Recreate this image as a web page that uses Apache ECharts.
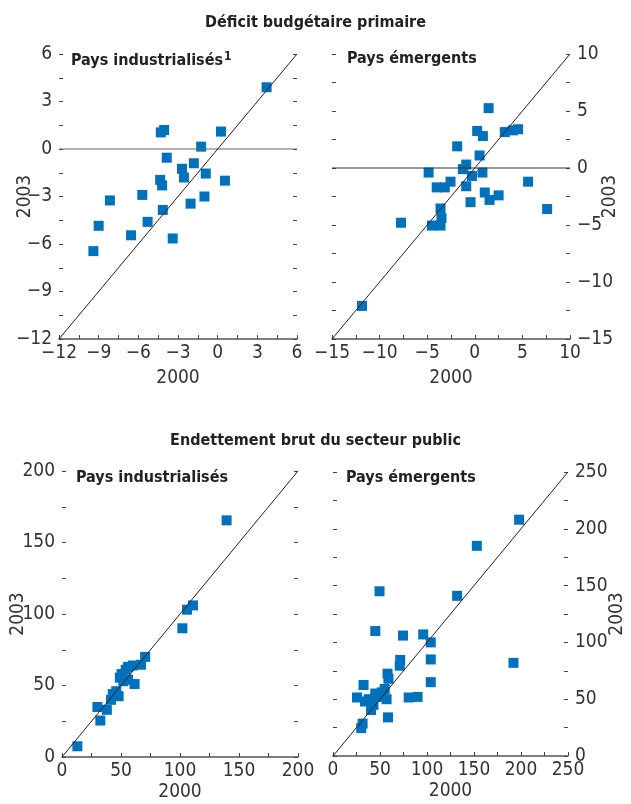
<!DOCTYPE html>
<html>
<head>
<meta charset="utf-8">
<script src="https://cdn.jsdelivr.net/npm/echarts@6/dist/echarts.min.js"></script>
<style>
html,body{margin:0;padding:0;background:#fff;}
#c{width:631px;height:804px;}
</style>
</head>
<body>
<div id="c"></div>
<script>
// ---- Data ----
// Primary deficit, industrial countries: [2000, 2003]
const deficitIndustrial = [
  [3.7,3.9],[-4.3,1.05],[-4.05,1.2],[0.25,1.1],[-1.25,0.15],[-3.85,-0.55],
  [-2.7,-1.25],[-1.8,-0.9],[-0.9,-1.55],[0.55,-2.0],[-2.55,-1.8],[-4.35,-1.95],
  [-4.2,-2.3],[-5.7,-2.9],[-8.15,-3.25],[-1.0,-3.0],[-2.05,-3.45],[-4.15,-3.85],
  [-5.3,-4.6],[-9.0,-4.85],[-6.55,-5.45],[-3.4,-5.65],[-9.4,-6.45]
];
// Primary deficit, emerging countries
const deficitEmerging = [
  [1.45,5.25],[0.25,3.25],[0.85,2.8],[3.15,3.15],[4.0,3.3],[4.55,3.4],
  [-1.85,1.9],[0.5,1.1],[-0.9,0.3],[-1.25,-0.1],[-0.3,-0.7],[-4.85,-0.4],
  [0.8,-0.4],[-2.55,-1.2],[-4.0,-1.7],[-3.15,-1.7],[-0.9,-1.6],[5.6,-1.2],
  [1.05,-2.15],[1.55,-2.8],[2.5,-2.4],[-0.45,-3.0],[-3.6,-3.55],[7.6,-3.6],
  [-3.5,-4.4],[-7.75,-4.8],[-4.5,-5.05],[-3.6,-5.05],[-11.85,-12.1]
];
// Gross public debt, industrial countries
const debtIndustrial = [
  [139.5,165.5],[111,106],[106,103],[102,90],[70.5,70],[67,64.5],[60,64],
  [56,63],[54,61],[50.5,58],[49,55.5],[56,54],[61.5,51],[52,53],[48,42.5],
  [43,44],[41.5,40],[38,33],[30,35],[32.5,25.5],[13,7.5],[46,46]
];
// Gross public debt, emerging countries
const debtEmerging = [
  [198,208],[153,185],[132,141],[49.5,145],[45,110],[74.5,106],[96,107],
  [104,100],[104,85],[104,65],[192,82],[71.5,84.5],[71,79.5],[58,72.5],
  [59,68],[32.5,62.5],[25.5,51.5],[80.5,51.5],[90,52],[57,50],[55,59],
  [45,55],[34,48],[43,45],[40.5,40.5],[58.5,34],[31.5,28.5],[30,24.5],
  [47,52],[52,56],[38,50]
];
// Axis ranges [min, max, tickStep, labelStep]
const rangeDefInd = [-12, 6, 1.5, 3];
const rangeDefEm = [-15, 10, 2.5, 5];
const rangeDebtInd = [0, 200, 25, 50];
const rangeDebtEm = [0, 250, 25, 50];
// Reference lines (45-degree line and zero line)
const diagDefInd = [[-12,-12],[6,6]];
const diagDefEm = [[-15,-15],[10,10]];
const diagDebtInd = [[0,0],[200,200]];
const diagDebtEm = [[0,0],[250,250]];
const zeroDefInd = [[-12,0],[6,0]];
const zeroDefEm = [[-15,0],[10,0]];
// Texts
const mainTitle1 = 'Déficit budgétaire primaire';
const mainTitle2 = 'Endettement brut du secteur public';
const panelInd = 'Pays industrialisés';
const panelEm = 'Pays émergents';
const xName = '2000';
const yName = '2003';

// ---- Chart ----
const FONT = '"Liberation Sans Narrow","DejaVu Sans Condensed","Liberation Sans",sans-serif';
const TXT = '#333';
const BLUE = '#0071bc';

function fmt(step){
  return function(v){
    const r = v/step;
    if (Math.abs(r - Math.round(r)) > 1e-6) return '';
    return v < 0 ? '\u2212' + (-v) : String(v);
  };
}

const grids = [
  {left:59, top:54, width:238, height:285},
  {left:332, top:54, width:238, height:285},
  {left:62, top:471, width:236, height:286},
  {left:333, top:472, width:235, height:284}
];
const ranges = [rangeDefInd, rangeDefEm, rangeDebtInd, rangeDebtEm];
const labelSide = ['left','right','left','right'];
const xGaps = [30,30,26,26];
const yGaps = [24,31,34,40];

const xAxes = [], yAxes = [];
ranges.forEach((r,i)=>{
  xAxes.push({
    type:'value', gridIndex:i, min:r[0], max:r[1], interval:r[2],
    position:'bottom',
    axisLine:{show:true, onZero:false, lineStyle:{color:'#555', width:1.5}},
    axisTick:{show:true, inside:true, length:4, lineStyle:{color:'#444', width:1}},
    axisLabel:{formatter:fmt(r[3]), color:TXT, fontFamily:FONT, fontSize:19, margin:5, showMinLabel:true, showMaxLabel:true},
    splitLine:{show:false},
    name:xName, nameLocation:'middle', nameGap:xGaps[i],
    nameTextStyle:{color:TXT, fontFamily:FONT, fontSize:19}
  });
  ['left','right'].forEach(side=>{
    const lab = side === labelSide[i];
    yAxes.push({
      type:'value', gridIndex:i, min:r[0], max:r[1], interval:r[2],
      position:side,
      axisLine:{show:false, onZero:false},
      axisTick:{show:true, inside:true, length:4, lineStyle:{color:'#444', width:1}},
      axisLabel:{show:lab, formatter:fmt(r[3]), color:TXT, fontFamily:FONT, fontSize:19, margin:7, showMinLabel:true, showMaxLabel:true},
      splitLine:{show:false},
      name: lab ? yName : '', nameLocation:'middle', nameGap:yGaps[i], nameRotate:90,
      nameMoveOverlap:false,
      nameTextStyle:{color:TXT, fontFamily:FONT, fontSize:19}
    });
  });
});

function scatter(i, data){
  return {type:'scatter', xAxisIndex:i, yAxisIndex:2*i, data:data, symbol:'rect', symbolSize:10,
    itemStyle:{color:BLUE, opacity:1}, z:2, silent:true};
}
function line(i, data, color, w){
  return {type:'line', xAxisIndex:i, yAxisIndex:2*i, data:data, symbol:'none',
    lineStyle:{color:color, width:w}, z:3, silent:true, animation:false};
}

const titleStyle = {color:'#222', fontFamily:FONT, fontSize:16, fontWeight:'bold'};
const option = {
  animation:false,
  backgroundColor:'#fff',
  title:[
    {text:mainTitle1, left:'center', top:10, textStyle:titleStyle},
    {text:mainTitle2, left:'center', top:428, textStyle:titleStyle},
    {text:'{a|'+panelInd+'}{s|1}', left:66, top:45, textStyle:{
      rich:{a:{color:'#222', fontFamily:FONT, fontSize:16, fontWeight:'bold', lineHeight:22},
            s:{color:'#222', fontFamily:FONT, fontSize:12, fontWeight:'bold', lineHeight:22, padding:[0,0,9,1]}}}},
    {text:panelEm, left:342, top:46, textStyle:titleStyle},
    {text:panelInd, left:71, top:465, textStyle:titleStyle},
    {text:panelEm, left:341, top:465, textStyle:titleStyle}
  ],
  grid:grids,
  xAxis:xAxes,
  yAxis:yAxes,
  series:[
    scatter(0, deficitIndustrial),
    scatter(1, deficitEmerging),
    scatter(2, debtIndustrial),
    scatter(3, debtEmerging),
    line(0, zeroDefInd, '#666', 1.2),
    line(1, zeroDefEm, '#333', 1),
    line(0, diagDefInd, '#222', 1),
    line(1, diagDefEm, '#222', 1),
    line(2, diagDebtInd, '#222', 1),
    line(3, diagDebtEm, '#222', 1)
  ]
};
const chart = echarts.init(document.getElementById('c'), null, {renderer:'canvas'});
chart.setOption(option);
</script>
</body>
</html>
